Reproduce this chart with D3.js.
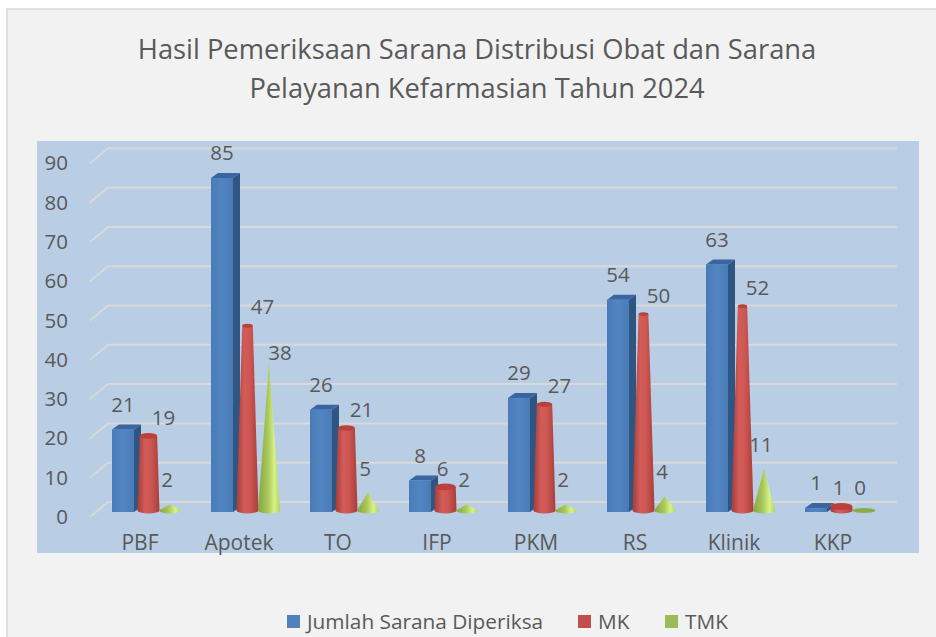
<!DOCTYPE html>
<html><head><meta charset="utf-8">
<script src="https://cdn.jsdelivr.net/npm/d3@7"></script>
<style>html,body{margin:0;padding:0;background:#fff;}svg{display:block;}</style>
</head><body>
<script>
const categories = ["PBF","Apotek","TO","IFP","PKM","RS","Klinik","KKP"];
const jumlah = [21,85,26,8,29,54,63,1];
const mk = [19,47,21,6,27,50,52,1];
const tmk = [2,38,5,2,2,4,11,0];
const yTicks = [0,10,20,30,40,50,60,70,80,90];
const seriesNames = ["Jumlah Sarana Diperiksa","MK","TMK"];
const seriesColors = ["#4f81bd","#c0504d","#9bbb59"];
const titleLines = ["Hasil Pemeriksaan Sarana Distribusi Obat dan Sarana","Pelayanan Kefarmasian Tahun 2024"];

const W = 936, H = 637;
const FONT = "'Open Sans', 'Noto Sans', sans-serif";
const TXT = "#595959";
const svg = d3.select("body").append("svg").attr("width", W).attr("height", H);
const defs = svg.append("defs");

function hGrad(id, stops){
  const g = defs.append("linearGradient").attr("id", id).attr("x1","0").attr("x2","1").attr("y1","0").attr("y2","0");
  stops.forEach(s => g.append("stop").attr("offset", s[0]).attr("stop-color", s[1]));
}
hGrad("gRed", [["0%","#a33d3a"],["35%","#d35c58"],["60%","#cf5753"],["100%","#a63f3b"]]);
hGrad("gGreen", [["0%","#86a444"],["45%","#a9c95b"],["75%","#d6f287"],["100%","#b3d062"]]);
hGrad("gBlue", [["0%","#4a7bb6"],["50%","#5185c2"],["100%","#4a7bb7"]]);

// frame
svg.append("rect").attr("x",7).attr("y",9).attr("width",W+20).attr("height",H+20)
  .attr("fill","#f2f2f2").attr("stroke","#d9d9d9").attr("stroke-width",1.5);

// title
svg.append("text").attr("x",477).attr("y",59).attr("text-anchor","middle")
  .attr("font-family",FONT).attr("font-size",27.3).attr("fill",TXT)
  .selectAll("tspan").data(titleLines).join("tspan")
  .attr("x",477).attr("dy",(d,i)=> i===0?0:39).text(d=>d);

// plot area
svg.append("rect").attr("x",37).attr("y",141).attr("width",882).attr("height",412).attr("fill","#b9cde5");

const x = d3.scaleBand().domain(categories).range([90.5, 882.5]);
const y = d3.scaleLinear().domain([0,90]).range([512, 512-90*3.93]);
const yFront = d3.scaleLinear().domain([0,90]).range([517, 517-90*3.93]);
const BACK = 10, DX = 18;

// gridlines
const grid = svg.append("g");
grid.selectAll("path").data(yTicks).join("path")
  .attr("d", v => `M90,${yFront(v)} L${90+DX},${y(v)-BACK} L897,${y(v)-BACK}`)
  .attr("fill","none").attr("stroke","#d9d9d9").attr("stroke-width",2);

// y axis labels
const yAxis = d3.axisLeft(yFront).tickValues(yTicks).tickSize(0).tickPadding(22);
const ga = svg.append("g").attr("transform","translate(90,0)").call(yAxis);
ga.select(".domain").remove();
ga.selectAll("text").attr("font-family",FONT).attr("font-size",20.5).attr("fill",TXT);

// x labels
const xAxis = d3.axisBottom(x).tickSize(0).tickPadding(0);
const gx = svg.append("g").attr("transform","translate(0,535)").call(xAxis);
gx.select(".domain").remove();
gx.selectAll("text").attr("font-family",FONT).attr("font-size",21).attr("fill",TXT);

const cx = c => x(c) + x.bandwidth()/2;
const BW = 22, DEP = 7, DEPY = 5, R = 11;
const base = y(0);

const data = categories.map((c,i)=>({c, j:jumlah[i], m:mk[i], t:tmk[i]}));

// blue boxes
const gb = svg.append("g");
data.forEach(d => {
  const x0 = cx(d.c) - 28, top = y(d.j);
  gb.append("path").attr("d", `M${x0+BW},${top} L${x0+BW+DEP},${top-DEPY} L${x0+BW+DEP},${base-DEPY} L${x0+BW},${base} Z`).attr("fill","#2f5683");
  gb.append("rect").attr("x",x0).attr("y",top).attr("width",BW).attr("height",base-top).attr("fill","url(#gBlue)");
  gb.append("path").attr("d", `M${x0},${top} L${x0+DEP},${top-DEPY} L${x0+BW+DEP},${top-DEPY} L${x0+BW},${top} Z`).attr("fill","#3a65a0");
});

// red truncated cones
const gr = svg.append("g");
const RY = 3, redBase = base - 1.5;
data.forEach(d => {
  const c = cx(d.c) + 8.5, top = y(d.m) - 1.5;
  const r = R * (1 - d.m/90), ry = RY * r / R + 0.5;
  gr.append("path").attr("d",
    `M${c-R},${redBase} L${c-r},${top} L${c+r},${top} L${c+R},${redBase} A${R},${RY} 0 0 1 ${c-R},${redBase} Z`)
    .attr("fill","url(#gRed)");
  gr.append("ellipse").attr("cx",c).attr("cy",top).attr("rx",r).attr("ry",ry).attr("fill","#b9403d");
});

// green cones
const gg = svg.append("g");
data.forEach(d => {
  const c = cx(d.c) + 30, top = y(d.t);
  if (d.t > 0) {
    gg.append("path").attr("d",
      `M${c-R},${redBase} L${c},${top} L${c+R},${redBase} A${R},${RY} 0 0 1 ${c-R},${redBase} Z`)
      .attr("fill","url(#gGreen)");
  } else {
    gg.append("ellipse").attr("cx",c+1).attr("cy",redBase).attr("rx",R+0.5).attr("ry",RY-0.5).attr("fill","#8cab4c");
  }
});

// value labels
const gl = svg.append("g").attr("font-family",FONT).attr("font-size",20.5).attr("fill",TXT).attr("text-anchor","middle");
data.forEach(d => {
  gl.append("text").attr("x", cx(d.c) - 17).attr("y", y(d.j) - 25).attr("dy","0.35em").text(d.j);
  gl.append("text").attr("x", cx(d.c) + 8.5 + (d.m > 8 ? 15 : -3)).attr("y", y(d.m) - 20).attr("dy","0.35em").text(d.m);
  const tall = d.t > 20;
  gl.append("text").attr("x", cx(d.c) + (tall ? 41 : 27)).attr("y", y(d.t) - (tall ? 10 : 24)).attr("dy","0.35em").text(d.t);
});

// legend
const legX = [287, 578, 665];
const lg = svg.append("g").attr("font-family",FONT).attr("font-size",20.8).attr("fill",TXT);
seriesNames.forEach((n,i) => {
  lg.append("rect").attr("x",legX[i]).attr("y",615).attr("width",13).attr("height",13).attr("fill",seriesColors[i]);
  lg.append("text").attr("x",legX[i]+20).attr("y",622).attr("dy","0.35em").text(n);
});
</script>
</body></html>
